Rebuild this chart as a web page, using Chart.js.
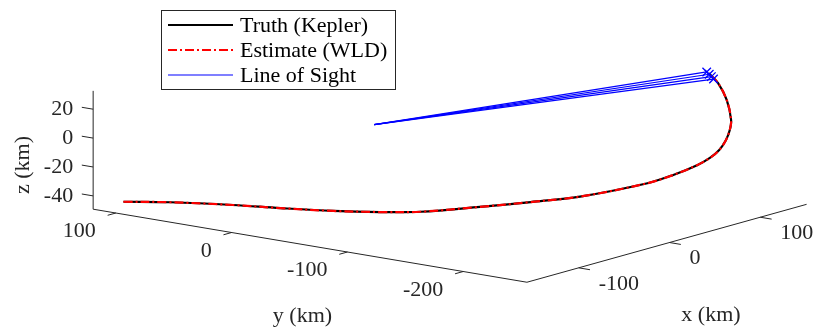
<!DOCTYPE html>
<html><head><meta charset="utf-8">
<script src="https://cdn.jsdelivr.net/npm/chart.js@4"></script>
<style>html,body{margin:0;padding:0;background:#fff}#wrap{width:816px;height:328px;position:relative}</style>
</head><body><div id="wrap"><canvas id="c"></canvas></div>
<script>
// ---- data (km) ----
const truthX = [-141, -121, -100, -88, -73, -60, -46, -20, 4, 29, 65, 82, 98, 107, 116, 126, 134, 138, 146, 149, 144];
const truthY = [106, 81, 43.5, 12, -22, -52, -76, -107, -132, -155, -185, -194, -202, -206, -207, -205, -202, -200, -190, -180, -176];
const truthZ = [-45, -45.5, -46, -46, -46, -45, -44, -41, -38.5, -36, -29, -25, -20, -16, -12, -7, -2, 4, 15, 25, 32];
const estX = [-141, -121, -100, -88, -73, -60, -46, -20, 4, 29, 65, 82, 98, 107, 116, 126, 134, 138, 146, 149, 144];
const estY = [106, 81, 43.5, 12, -22, -52, -76, -107, -132, -155, -185, -194, -202, -206, -207, -205, -202, -200, -190, -180, -176];
const estZ = [-45, -45.5, -46, -46, -46, -45, -44, -41, -38.5, -36, -29, -25, -20, -16, -12, -7, -2, 4, 15, 25, 32];
const observer = [0, 0, -2];
const losX = [143, 142, 140.5, 139];
const losY = [-175, -178, -181, -184];
const losZ = [33, 32, 31, 30];
const xTicks = [-100, 0, 100];
const yTicks = [-200, -100, 0, 100];
const zTicks = [-40, -20, 0, 20];
const xLim = [-157, 151];
const yLim = [-255, 119.6];
const zLim = [-49.2, 32.7];
const labels = ['Truth (Kepler)', 'Estimate (WLD)', 'Line of Sight'];

// ---- camera (orthographic view) ----
const view = { origin: [374.2, 121.7], ex: [0.908, -0.253], ey: [-1.158, -0.195], ez: [0, -1.445] };
function proj(x, y, z) {
  return { x: view.origin[0] + x * view.ex[0] + y * view.ey[0] + z * view.ez[0],
           y: view.origin[1] + x * view.ex[1] + y * view.ey[1] + z * view.ez[1] };
}
const FONT = '22px "Liberation Serif", "Times New Roman", serif';
const TXT = '#262626';

const truthData = truthX.map((v, i) => proj(v, truthY[i], truthZ[i]));
const estData = estX.map((v, i) => proj(v, estY[i], estZ[i]));
const losSets = losX.map((v, i) => ({
  label: i === 0 ? labels[2] : '',
  data: [proj(observer[0], observer[1], observer[2]), proj(v, losY[i], losZ[i])],
  showLine: true, borderColor: '#0000ff', borderWidth: 1.2, order: 0,
  pointRadius: [0, 6], pointStyle: 'crossRot', pointBorderColor: '#0000ff', pointBorderWidth: 1.3,
  backgroundColor: '#0000ff', tension: 0
}));

function unit(v) { const l = Math.hypot(v[0], v[1]); return [v[0] / l, v[1] / l]; }

const axes3d = {
  id: 'axes3d',
  beforeDatasetsDraw(chart) {
    const { ctx } = chart; const sx = chart.scales.x, sy = chart.scales.y;
    const P = (x, y, z) => { const p = proj(x, y, z); return [sx.getPixelForValue(p.x), sy.getPixelForValue(p.y)]; };
    const line = (a, b) => { ctx.beginPath(); ctx.moveTo(a[0], a[1]); ctx.lineTo(b[0], b[1]); ctx.stroke(); };
    const ux = unit(view.ex), uy = unit(view.ey);
    ctx.save();
    ctx.strokeStyle = TXT; ctx.lineWidth = 1; ctx.fillStyle = TXT; ctx.font = FONT;
    // axis lines
    line(P(xLim[0], yLim[1], zLim[0]), P(xLim[0], yLim[1], zLim[1]));
    line(P(xLim[0], yLim[1], zLim[0]), P(xLim[0], yLim[0], zLim[0]));
    line(P(xLim[0], yLim[0], zLim[0]), P(xLim[1], yLim[0], zLim[0]));
    // z ticks
    ctx.textAlign = 'right'; ctx.textBaseline = 'middle';
    zTicks.forEach(t => {
      const a = P(xLim[0], yLim[1], t);
      line(a, [a[0] + uy[0] * 11.5, a[1] + uy[1] * 11.5]);
      ctx.fillText(String(t), a[0] - 20, a[1]);
    });
    // y ticks
    yTicks.forEach(t => {
      const a = P(xLim[0], t, zLim[0]);
      line(a, [a[0] - ux[0] * 8.5, a[1] - ux[1] * 8.5]);
      ctx.fillText(String(t), a[0] - 20, a[1] + 18.5);
    });
    // x ticks
    ctx.textAlign = 'left';
    xTicks.forEach(t => {
      const a = P(t, yLim[0], zLim[0]);
      line(a, [a[0] - uy[0] * 11.5, a[1] - uy[1] * 11.5]);
      ctx.fillText(String(t), a[0] + 20, a[1] + 16);
    });
    // axis titles
    ctx.textAlign = 'center';
    ctx.fillText('y (km)', 302.5, 316);
    ctx.fillText('x (km)', 711, 315);
    ctx.translate(23, 165); ctx.rotate(-Math.PI / 2);
    ctx.fillText('z (km)', 0, 0);
    ctx.restore();
  },
  afterDraw(chart) {
    const { ctx } = chart;
    ctx.save();
    ctx.fillStyle = '#fff'; ctx.fillRect(161, 10, 235, 80);
    ctx.strokeStyle = TXT; ctx.lineWidth = 1; ctx.strokeRect(161.5, 10.5, 234, 79);
    const ds = chart.data.datasets;
    const rows = [ds[0], ds[1], ds[2]];
    const ys = [25, 50, 75];
    ctx.font = FONT; ctx.textAlign = 'left'; ctx.textBaseline = 'middle';
    rows.forEach((d, i) => {
      ctx.strokeStyle = d.borderColor; ctx.lineWidth = d.borderWidth;
      ctx.setLineDash(d.borderDash || []);
      ctx.beginPath(); ctx.moveTo(168, ys[i]); ctx.lineTo(233, ys[i]); ctx.stroke();
      ctx.setLineDash([]);
      ctx.fillStyle = '#000';
      ctx.fillText(d.label, 240, ys[i] + 1);
    });
    ctx.restore();
  }
};

new Chart(document.getElementById('c'), {
  type: 'scatter',
  data: {
    datasets: [
      { label: labels[0], data: truthData, showLine: true, borderColor: '#000000', borderWidth: 2.2, pointRadius: 0, tension: 0.35, order: 2 },
      { label: labels[1], data: estData, showLine: true, borderColor: '#ff0000', borderWidth: 2.2, borderDash: [9, 3, 2, 3], pointRadius: 0, tension: 0.35, order: 1 },
      ...losSets
    ]
  },
  options: {
    responsive: true, maintainAspectRatio: false, animation: false,
    layout: { padding: 0, autoPadding: false },
    scales: {
      x: { type: 'linear', min: 0, max: 816, display: false },
      y: { type: 'linear', min: 0, max: 328, reverse: true, display: false }
    },
    plugins: { legend: { display: false }, tooltip: { enabled: false } }
  },
  plugins: [axes3d]
});
</script>
</body></html>
